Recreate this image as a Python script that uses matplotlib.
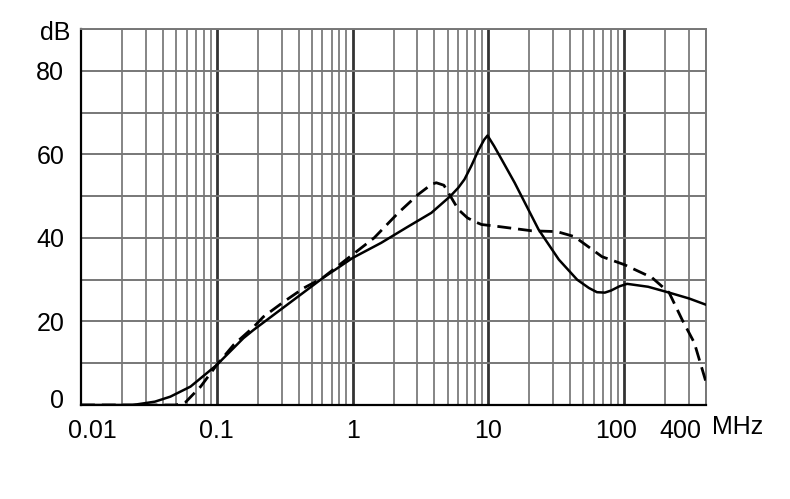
import numpy as np
import matplotlib.pyplot as plt
from matplotlib.transforms import ScaledTranslation

plt.rcParams['font.family'] = ['Liberation Sans', 'DejaVu Sans']

# solid curve (MHz, dB)
solid_f = [0.01, 0.024, 0.035, 0.0455, 0.064, 0.1, 0.157, 0.187, 0.3, 0.604, 1.0,
           1.62, 2.5, 3.8, 5.25, 6.0, 6.66, 7.5, 8.45, 9.3, 9.85, 11, 12.5, 15.6,
           23.4, 33, 45, 55, 63, 72, 80, 92, 105, 150, 214, 300, 400]
solid_db = [0.0, 0.0, 0.8, 2.0, 4.4, 9.6, 16.0, 18.0, 23.0, 30.4, 35.2,
            38.8, 42.5, 46.0, 50.0, 52.0, 54.0, 57.3, 61.0, 63.5, 64.5, 62.0, 58.8, 53.2,
            42.0, 34.8, 30.0, 28.0, 27.0, 26.9, 27.4, 28.4, 29.0, 28.3, 26.9, 25.5, 24.0]

# dashed curve (MHz, dB)
dash_f = [0.01, 0.05, 0.059, 0.076, 0.1, 0.133, 0.187, 0.22, 0.311, 0.437, 0.6,
          1.0, 1.44, 2.17, 3.04, 3.8, 4.13, 4.7, 5.25, 6.0, 7.0, 7.9, 8.9, 12, 20.8,
          32, 43, 68.6, 100, 160, 214, 267, 328, 400]
dash_db = [0.0, 0.0, 0.7, 4.4, 9.6, 14.4, 18.7, 21.1, 24.7, 28.0, 30.4,
           36.0, 40.0, 46.0, 50.4, 52.8, 53.2, 52.6, 50.0, 46.8, 44.8, 43.9, 43.2, 42.7, 41.7,
           41.5, 40.3, 35.5, 33.6, 30.5, 26.9, 20.4, 14.9, 5.5]

xticks = [0.01, 0.1, 1, 10, 100, 400]
xlabels = ['0.01', '0.1', '1', '10', '100', '400']
yticks = [0, 20, 40, 60, 80]

fig = plt.figure(figsize=(7.9, 4.99), dpi=100)
ax = fig.add_axes([81/790, 1 - 405/499, (706 - 81)/790, (405 - 29)/499])

ax.set_xscale('log')
ax.set_xlim(0.01, 400)
ax.set_ylim(0, 90)

# grid: decades darker, 2..9 lighter, every 10 dB
for f in [0.1, 1, 10, 100]:
    ax.axvline(f, color='#333333', lw=2.0, zorder=1)
for dec in [0.01, 0.1, 1, 10, 100]:
    for s in range(2, 10):
        f = dec * s
        if f <= 400:
            ax.axvline(f, color='#858585', lw=1.4, zorder=1)
for y in range(10, 91, 10):
    ax.axhline(y, color='#777777', lw=1.4, zorder=1)

ax.plot(solid_f, solid_db, color='black', lw=1.8, zorder=3)
ax.plot(dash_f, dash_db, color='black', lw=2.0, dashes=(5, 2.5), zorder=3)

ax.set_xticks(xticks)
ax.set_xticklabels(xlabels)
ax.set_xticks([], minor=True)
ax.set_yticks(yticks)
ax.set_yticklabels([str(v) for v in yticks])
ax.tick_params(axis='both', length=0, labelsize=18)
ax.tick_params(axis='x', pad=10)
ax.tick_params(axis='y', pad=12)

# nudge some labels like the original
offsets = {'0.01': 11, '100': -8, '400': -26}
for lab in ax.get_xticklabels():
    dx = offsets.get(lab.get_text(), 0)
    if dx:
        lab.set_transform(lab.get_transform() + ScaledTranslation(dx/100, 0, fig.dpi_scale_trans))
for lab in ax.get_yticklabels():
    if lab.get_text() == '0':
        lab.set_transform(lab.get_transform() + ScaledTranslation(0, 7/100, fig.dpi_scale_trans))

fig.text(712/790, 1 - 427/499, 'MHz', fontsize=18, ha='left', va='center')
fig.text(70/790, 1 - 33/499, 'dB', fontsize=18, ha='right', va='center')

for side in ['left', 'bottom']:
    ax.spines[side].set_color('black')
    ax.spines[side].set_linewidth(1.6)
for side in ['top', 'right']:
    ax.spines[side].set_color('#777777')
    ax.spines[side].set_linewidth(1.4)

fig.savefig('out.png', dpi=100)
